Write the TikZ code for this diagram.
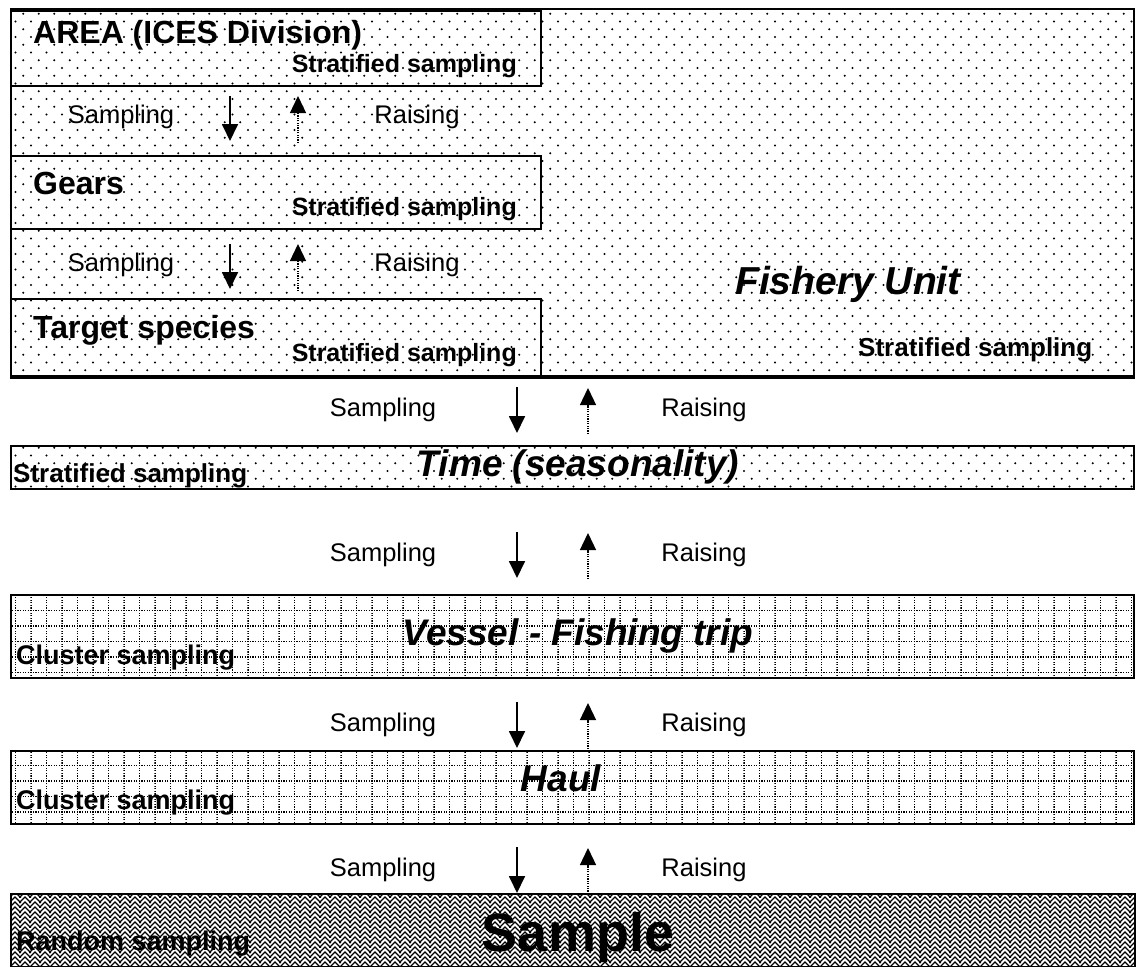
\documentclass[tikz,border=0pt]{standalone}
\usepackage{fontspec}
\setmainfont{Liberation Sans}
\usetikzlibrary{arrows.meta,patterns}

% fill patterns of the boxes
\pgfdeclarepatternformonly{fudots}{\pgfqpoint{-1.2pt}{-1.2pt}}{\pgfqpoint{16.7pt}{16.7pt}}{\pgfqpoint{15.5pt}{15.5pt}}{
  \pgfpathcircle{\pgfqpoint{0pt}{0pt}}{1.05pt}
  \pgfpathcircle{\pgfqpoint{7.75pt}{7.75pt}}{1.05pt}
  \pgfusepath{fill}}
\pgfdeclarepatternformonly{fugrid}{\pgfqpoint{-0.7pt}{-0.7pt}}{\pgfqpoint{15.5pt}{15.5pt}}{\pgfqpoint{15.5pt}{15.5pt}}{
  \pgfsetlinewidth{1.3pt}
  \pgfsetdash{{1.2pt}{1.3833pt}}{0pt}
  \pgfpathmoveto{\pgfqpoint{-0.7pt}{0pt}}\pgfpathlineto{\pgfqpoint{15.5pt}{0pt}}
  \pgfpathmoveto{\pgfqpoint{0pt}{-0.7pt}}\pgfpathlineto{\pgfqpoint{0pt}{15.5pt}}
  \pgfusepath{stroke}}
\pgfdeclarepatternformonly{fuweave}{\pgfqpoint{-1pt}{-1pt}}{\pgfqpoint{11pt}{11pt}}{\pgfqpoint{10pt}{10pt}}{
  \pgfsetlinewidth{1.1pt}
  \pgfpathmoveto{\pgfqpoint{-1pt}{-1pt}}\pgfpathlineto{\pgfqpoint{5pt}{5pt}}\pgfpathlineto{\pgfqpoint{11pt}{-1pt}}
  \pgfpathmoveto{\pgfqpoint{-1pt}{4pt}}\pgfpathlineto{\pgfqpoint{5pt}{10pt}}\pgfpathlineto{\pgfqpoint{11pt}{4pt}}
  \pgfusepath{stroke}}

\tikzset{
  box/.style={draw,line width=1.6pt,inner sep=0pt,anchor=north west},
  ttl/.style={font=\bfseries\fontsize{32}{36}\selectfont,inner sep=0pt},
  big/.style={font=\bfseries\itshape\fontsize{#1}{42}\selectfont,inner sep=0pt},
  big/.default=37,
  lab/.style={font=\bfseries\fontsize{#1}{28}\selectfont,inner sep=0pt},
  lab/.default=25,
  txt/.style={font=\fontsize{25.5}{30}\selectfont,inner sep=0pt},
  dn/.style={-{Triangle[width=16pt,length=17pt]},line width=1.8pt},
  up/.style={-{Triangle[width=16pt,length=17pt]},line width=1.3pt,dash pattern=on 1.2pt off 1.2pt},
}

\begin{document}
\begin{tikzpicture}[x=1pt,y=-1pt]
  \useasboundingbox[fill=white] (0,0) rectangle (1136,967);
  % fishery unit and its strata
  \node[box,pattern=fudots,line width=2.2pt,minimum width=1123pt,minimum height=367pt] (fu) at (10,8) {};
  \node[box,minimum width=530pt,minimum height=75pt] (area) at (10,10) {};
  \node[box,minimum width=530pt,minimum height=73pt] (gears) at (10,155) {};
  \node[box,minimum width=530pt,minimum height=77pt] (target) at (10,298) {};
  \draw[line width=2.6pt] (fu.south west) -- (fu.south east);
  \node[ttl,anchor=west] (areaT) at (33,35) {AREA (ICES Division)};
  \node[lab,anchor=east] (areaS) at (517,66) {Stratified sampling};
  \node[ttl,anchor=west] (gearsT) at (33,183) {Gears};
  \node[lab,anchor=east] (gearsS) at (517,209) {Stratified sampling};
  \node[ttl,anchor=west] (targetT) at (33,330) {Target species};
  \node[lab,anchor=east] (targetS) at (517,355) {Stratified sampling};
  \node[big=39] (fuT) at (848,284) {Fishery Unit};
  \node[lab=26,anchor=west] (fuS) at (858,350) {Stratified sampling};
  % lower levels
  \node[box,pattern=fudots,minimum width=1123pt,minimum height=43pt] (time) at (10,445) {};
  \node[big] (timeT) at (578,467) {Time (seasonality)};
  \node[lab=26,anchor=west] (timeS) at (13,476) {Stratified sampling};
  \node[box,pattern=fugrid,minimum width=1123pt,minimum height=83pt] (vessel) at (10,594) {};
  \node[big] (vesselT) at (578,636) {Vessel - Fishing trip};
  \node[lab=27,anchor=west] (vesselS) at (16,658) {Cluster sampling};
  \node[box,pattern=fugrid,minimum width=1123pt,minimum height=73pt] (haul) at (10,750) {};
  \node[big] (haulT) at (561,778) {Haul};
  \node[lab=27,anchor=west] (haulS) at (16,803) {Cluster sampling};
  \node[box,pattern=fuweave,minimum width=1124pt,minimum height=73pt] (sample) at (10,893) {};
  \node[font=\bfseries\fontsize{54}{60}\selectfont,inner sep=0pt] (sampleT) at (578,938) {Sample};
  \node[lab=27,anchor=west] (sampleS) at (16,944) {Random sampling};
  % sampling / raising between the levels
  \foreach \i/\yy in {1/117,2/265}{
    \node[txt] (smp\i) at (121,\yy) {Sampling};
    \node[txt] (rai\i) at (417,\yy) {Raising};
    \coordinate (d\i) at (230,\yy-21); \coordinate (e\i) at (230,\yy+24);
    \coordinate (f\i) at (298,\yy+26); \coordinate (g\i) at (298,\yy-21);
    \draw[dn] (d\i) -- (e\i);
    \draw[up] (f\i) -- (g\i);
  }
  \foreach \i/\yy in {3/410,4/555,5/725,6/870}{
    \node[txt] (smp\i) at (383,\yy) {Sampling};
    \node[txt] (rai\i) at (704,\yy) {Raising};
    \coordinate (d\i) at (517,\yy-23); \coordinate (e\i) at (517,\yy+23);
    \coordinate (f\i) at (588,\yy+24); \coordinate (g\i) at (588,\yy-22);
    \draw[dn] (d\i) -- (e\i);
    \draw[up] (f\i) -- (g\i);
  }
\end{tikzpicture}
\end{document}
